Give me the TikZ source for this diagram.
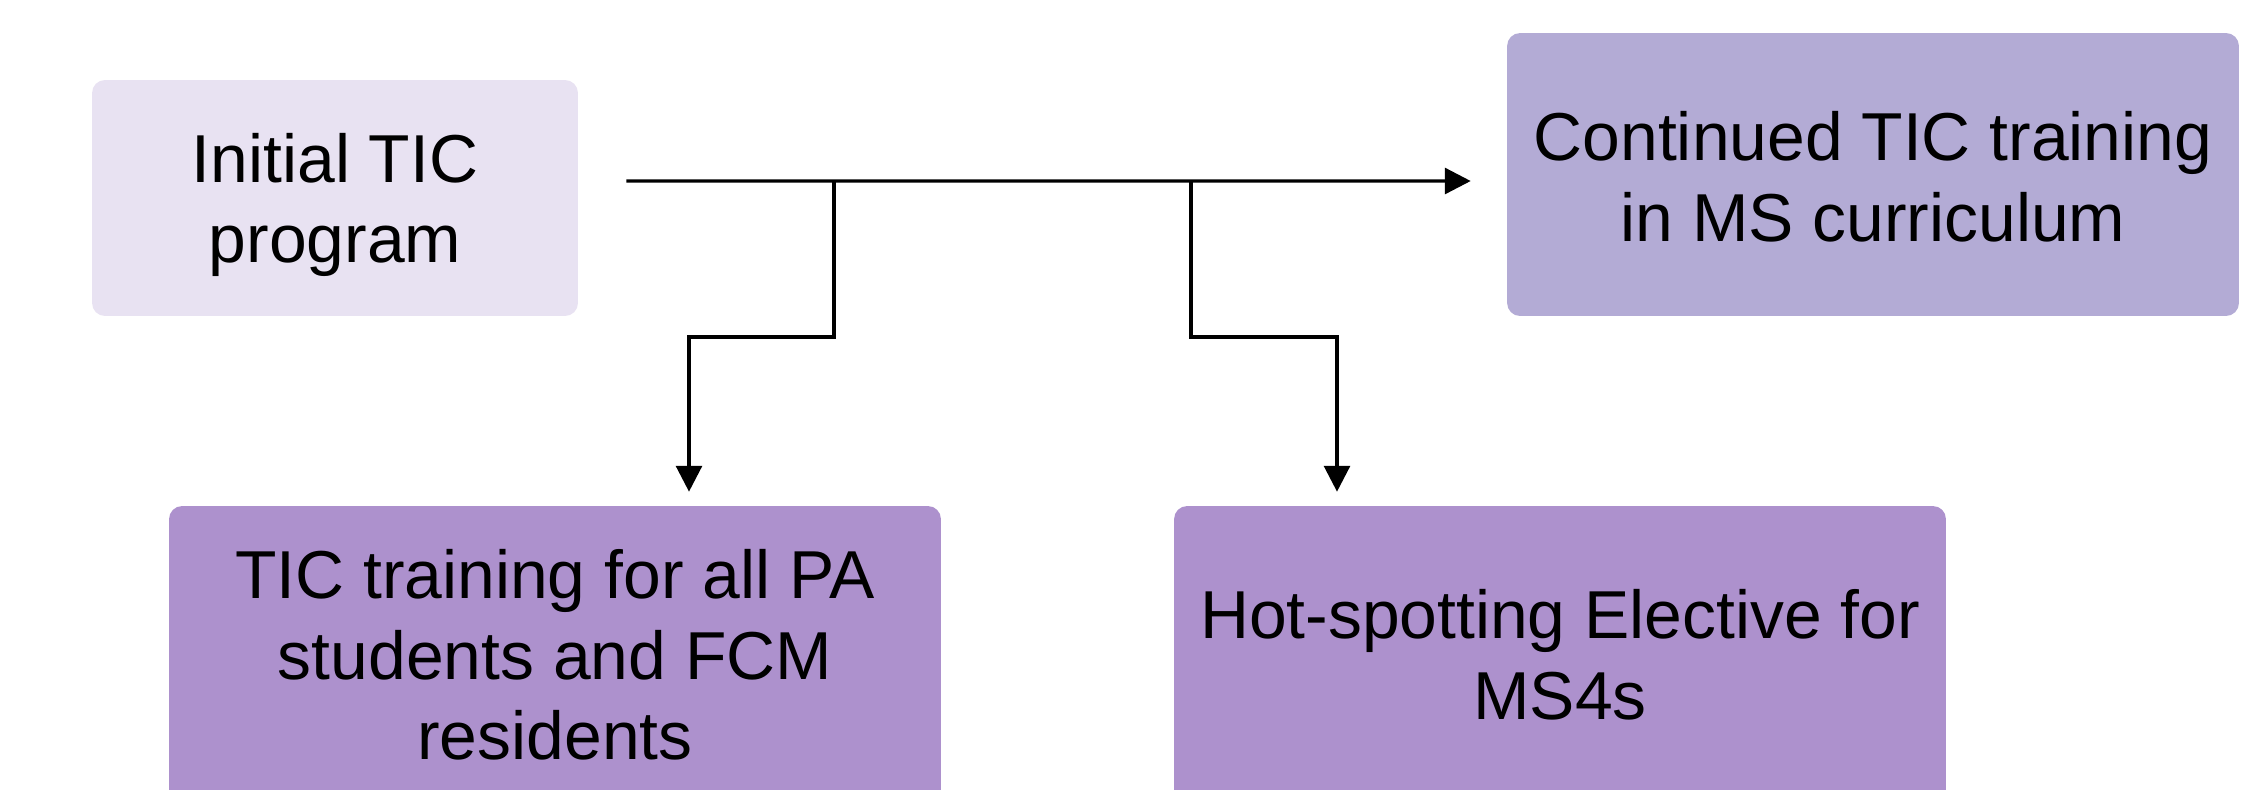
\documentclass[tikz,border=0pt]{standalone}
\usepackage{fontspec}
\setmainfont{Liberation Sans}
\usetikzlibrary{arrows.meta,calc}
\definecolor{boxpale}{RGB}{232,226,242}
\definecolor{boxmid}{RGB}{179,171,213}
\definecolor{boxdeep}{RGB}{173,145,205}
\tikzset{
  box/.style={rounded corners=0.26cm, inner sep=0pt, draw=none},
  boxtext/.style={align=center, inner sep=0pt, text=black,
    font=\fontsize{38.6}{45.9}\selectfont},
  flow/.style={line width=1.9pt, line join=miter,
    -{Triangle[length=14.7pt,width=14.7pt]}},
}
\begin{document}
\begin{tikzpicture}[x=0.02cm,y=-0.02cm]
\useasboundingbox (0,0) rectangle (2250,789);
\clip (0,0) rectangle (2250,789);
\fill[white] (0,0) rectangle (2250,789);

% boxes (one unit = one pixel of a 2250 x 789 canvas)
\node[box, fill=boxpale, minimum width=9.72cm, minimum height=4.72cm] (init) at (335,198) {};
\node[box, fill=boxmid, minimum width=14.64cm, minimum height=5.66cm] (cont) at (1873,174.5) {};
\node[box, fill=boxdeep, minimum width=15.44cm, minimum height=5.96cm] (pa) at (555,655) {};
\node[box, fill=boxdeep, minimum width=15.44cm, minimum height=5.96cm] (hot) at (1560,655) {};

% box texts
\node[boxtext] (init-t) at ($(init)+(0,7)$) {Initial TIC\\program};
\node[boxtext] (cont-t) at ($(cont)+(0,2.5)$) {Continued TIC training\\in MS curriculum};
\node[boxtext] (pa-t) at (pa) {TIC training for all PA\\students and FCM\\residents};
\node[boxtext] (hot-t) at (hot) {Hot-spotting Elective for\\MS4s};

% connector points
\coordinate (a0) at ($(init.east)+(48,-17)$);
\coordinate (a1) at ($(cont.west)+(-36,6.5)$);
\coordinate (j1) at (834,181);
\coordinate (j2) at (1191,181);
\coordinate (b1) at (834,337);
\coordinate (b2) at (1191,337);
\coordinate (t1) at ($(pa.north)+(134,-14)$);
\coordinate (t2) at ($(hot.north)+(-223,-14)$);

% connectors
\draw[flow] (a0) -- (a1);
\draw[flow] (j1) -- (b1) -| (t1);
\draw[flow] (j2) -- (b2) -| (t2);
\end{tikzpicture}
\end{document}
